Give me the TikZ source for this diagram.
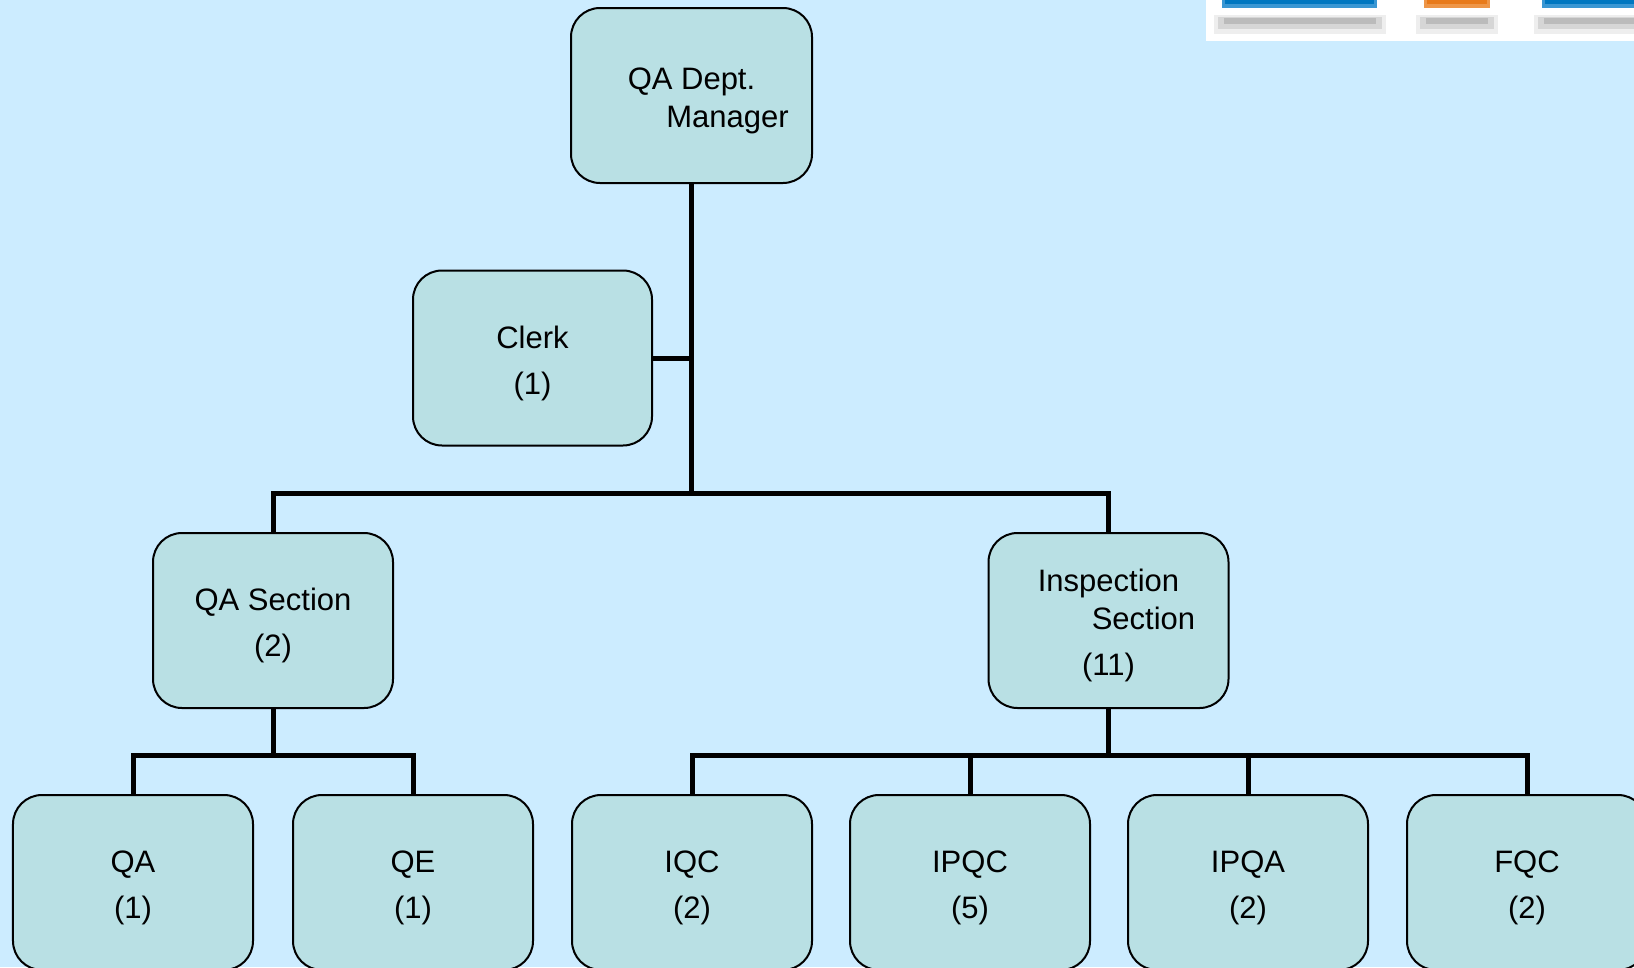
\documentclass[tikz,border=0pt]{standalone}
\usepackage{fontspec}
\setmainfont{Liberation Sans}
\usetikzlibrary{positioning}
\definecolor{bgblue}{RGB}{204,236,255}
\definecolor{boxfill}{RGB}{185,224,228}
\definecolor{barblue}{RGB}{0,119,192}
\definecolor{barblueL}{RGB}{58,151,211}
\definecolor{barorange}{RGB}{232,122,26}
\definecolor{barorangeL}{RGB}{238,150,72}
\definecolor{shadeA}{RGB}{187,187,187}
\definecolor{shadeB}{RGB}{214,214,214}
\definecolor{shadeC}{RGB}{238,238,238}
\newcommand{\capstrut}{\rule{0pt}{33bp}}

\begin{document}
\begin{tikzpicture}[x=1bp,y=-1bp,
		unit/.style={draw, line width=2bp, fill=boxfill, rounded corners=29bp, minimum width=240bp, minimum height=175bp, inner sep=0pt, align=center, font=\fontsize{31bp}{38bp}\selectfont},
		conn/.style={line width=5bp}]
		\fill[bgblue] (0,0) rectangle (1634,967);
		\useasboundingbox (0,0) rectangle (1634,967);
		\fill[white] (1206,0) rectangle (1634,41);
		\fill[shadeC] (1214,15) rectangle (1386,34);
		\fill[shadeB] (1218,17) rectangle (1382,29);
		\fill[shadeA] (1224,18) rectangle (1376,24);
		\fill[shadeC] (1416,15) rectangle (1498,34);
		\fill[shadeB] (1420,17) rectangle (1494,29);
		\fill[shadeA] (1426,18) rectangle (1488,24);
		\fill[shadeC] (1534,15) rectangle (1634,34);
		\fill[shadeB] (1538,17) rectangle (1634,29);
		\fill[shadeA] (1544,18) rectangle (1634,24);
		\fill[barblueL] (1222,0) rectangle (1377,8);
		\fill[barblue] (1225,0) rectangle (1374,4);
		\fill[barorangeL] (1424,0) rectangle (1490,8);
		\fill[barorange] (1427,0) rectangle (1487,4);
		\fill[barblueL] (1542,0) rectangle (1634,8);
		\fill[barblue] (1545,0) rectangle (1634,4);
		\node[unit, minimum width=241bp] (mgr) at (691.5,95.5) {\capstrut QA Dept.\\\hspace*{72bp}Manager};
		\node[unit, minimum width=239bp] (clerk) at (532.5,358) {\capstrut Clerk\\[8bp](1)};
		\node[unit] (qasec) at (273,620.5) {\capstrut QA Section\\[8bp](2)};
		\node[unit] (insp) at (1108.5,620.5) {\capstrut Inspection\\\hspace*{70bp}Section\\[8bp](11)};
		\node[unit] (qa) at (133,882.5) {\capstrut QA\\[8bp](1)};
		\node[unit] (qe) at (413,882.5) {\capstrut QE\\[8bp](1)};
		\node[unit] (iqc) at (692,882.5) {\capstrut IQC\\[8bp](2)};
		\node[unit] (ipqc) at (970,882.5) {\capstrut IPQC\\[8bp](5)};
		\node[unit] (ipqa) at (1248,882.5) {\capstrut IPQA\\[8bp](2)};
		\node[unit] (fqc) at (1527,882.5) {\capstrut FQC\\[8bp](2)};
		\coordinate (hub) at (mgr.south |- 0,493);
		\coordinate (qahub) at (qasec.south |- 0,755);
		\coordinate (inhub) at (insp.south |- 0,755);
		\draw[conn] (mgr.south) -- (hub);
		\draw[conn] (clerk.east) -- (clerk.east -| hub);
		\draw[conn] (qasec.north) |- (hub) -| (insp.north);
		\draw[conn] (qasec.south) -- (qahub);
		\draw[conn] (qa.north) |- (qahub) -| (qe.north);
		\draw[conn] (insp.south) -- (inhub);
		\draw[conn] (iqc.north) |- (inhub) -| (fqc.north);
		\draw[conn] (ipqc.north) -- (ipqc.north |- inhub);
		\draw[conn] (ipqa.north) -- (ipqa.north |- inhub);
	\end{tikzpicture}
\end{document}
